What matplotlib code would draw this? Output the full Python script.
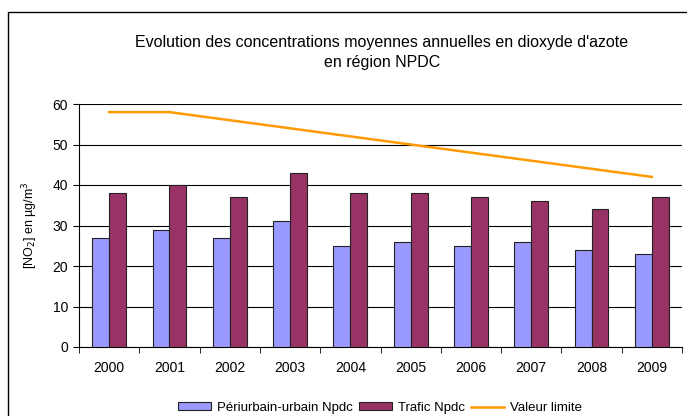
import matplotlib
matplotlib.use("Agg")
import matplotlib.pyplot as plt
from matplotlib.patches import Rectangle
import numpy as np

plt.rcParams['font.family'] = ['Liberation Sans', 'DejaVu Sans']

years = ['2000', '2001', '2002', '2003', '2004', '2005', '2006', '2007', '2008', '2009']
periurbain = [27, 29, 27, 31, 25, 26, 25, 26, 24, 23]
trafic = [38, 40, 37, 43, 38, 38, 37, 36, 34, 37]
valeur_limite = [58, 58, 56, 54, 52, 50, 48, 46, 44, 42]

fig = plt.figure(figsize=(6.87, 4.16), dpi=100)
# outer chart frame (cropped on right/bottom)
fig.patches.append(Rectangle((7.5 / 687, -0.1), 1.2, 1.1 - 11.5 / 416, transform=fig.transFigure,
                             fill=False, edgecolor='black', linewidth=1.0))

ax = fig.add_axes([79 / 687, 1 - 347 / 416, 603 / 687, 243 / 416])

x = np.arange(len(years))
w = 0.28
b1 = ax.bar(x - w / 2, periurbain, w, color='#9999FF', edgecolor='#222222', linewidth=0.8,
            label='Périurbain-urbain Npdc', zorder=3)
b2 = ax.bar(x + w / 2, trafic, w, color='#993366', edgecolor='#222222', linewidth=0.8,
            label='Trafic Npdc', zorder=3)
l1, = ax.plot(x, valeur_limite, color='#FF9900', linewidth=1.8, label='Valeur limite', zorder=4)

ax.set_xlim(-0.5, len(years) - 0.5)
ax.set_ylim(0, 60)
ax.set_yticks(range(0, 61, 10))
ax.yaxis.grid(True, color='black', linewidth=0.8, zorder=0)
ax.set_xticks(x)
ax.set_xticklabels(years, fontsize=10)
ax.set_xticks(np.arange(-0.5, len(years)), minor=True)
ax.tick_params(axis='x', which='major', length=0, pad=10)
ax.tick_params(axis='x', which='minor', length=4, direction='out')
ax.tick_params(axis='y', length=4, direction='out', labelsize=10, pad=4)
for s in ['top', 'right']:
    ax.spines[s].set_visible(False)
ax.spines['left'].set_linewidth(0.8)
ax.spines['bottom'].set_linewidth(0.8)

ax.set_ylabel('[NO$_2$] en µg/m$^3$', fontsize=9, labelpad=9)

fig.text(382 / 687, 1 - 42 / 416, "Evolution des concentrations moyennes annuelles en dioxyde d'azote",
         ha='center', va='center', fontsize=11.5)
fig.text(382 / 687, 1 - 62 / 416, 'en région NPDC', ha='center', va='center', fontsize=11.5)

fig.legend(handles=[b1, b2, l1], loc='center', bbox_to_anchor=(380 / 687, 1 - 408 / 416), ncol=3,
           frameon=False, fontsize=9.5, handlelength=2.5, handleheight=0.55, columnspacing=0.5,
           handletextpad=0.45, borderaxespad=0)

fig.savefig('out.png', dpi=100)
